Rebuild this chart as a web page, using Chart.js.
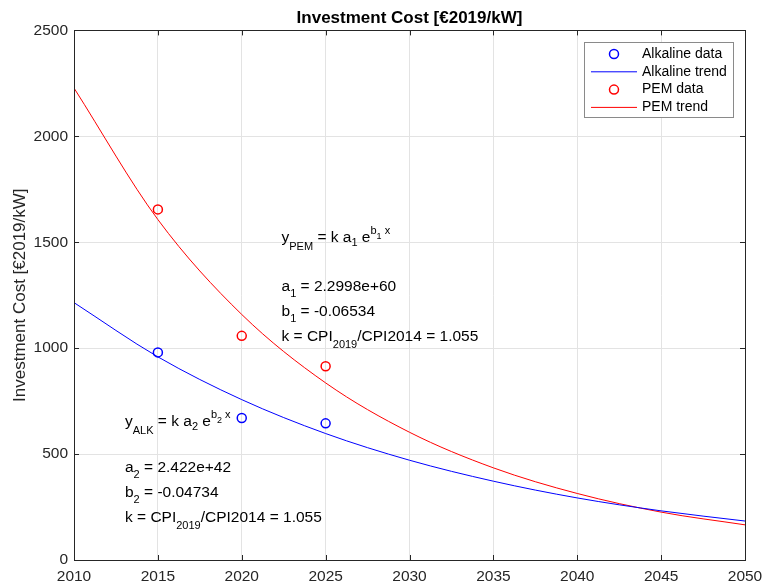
<!DOCTYPE html>
<html>
<head>
<meta charset="utf-8">
<script src="https://cdn.jsdelivr.net/npm/chart.js@4/dist/chart.umd.min.js"></script>
<style>
  html, body { margin: 0; padding: 0; background: #fff; }
</style>
</head>
<body>
<canvas id="costChart" width="763" height="587"></canvas>
<script>
// values
const dataYears = [2015, 2020, 2025];
const alkalineData = [980, 670, 645];
const pemData = [1655, 1058, 915];

const trendYears = [2010, 2015, 2020, 2025, 2030, 2035, 2040, 2045, 2050];
const alkalineTrend = [1215, 959, 757, 597, 471, 372, 293, 232, 184];
const pemTrend = [2228, 1607, 1159, 836, 603, 435, 314, 226, 166];

const xTicks = [2010, 2015, 2020, 2025, 2030, 2035, 2040, 2045, 2050];
const yTicks = [0, 500, 1000, 1500, 2000, 2500];

const FONT = "'Liberation Sans', Arial, Helvetica, sans-serif";
const INK = "#262626";

Chart.defaults.font.family = FONT;
Chart.defaults.color = INK;

function toPoints(xs, ys) {
    return xs.map((x, i) => ({ x: x, y: ys[i] }));
}

// MATLAB style box with inward ticks
const boxPlugin = {
    id: "box",
    afterDatasetsDraw(chart) {
        const c = chart.ctx;
        const a = chart.chartArea;
        const xs = chart.scales.x, ys = chart.scales.y;
        const len = 5;
        c.save();
        c.strokeStyle = INK;
        c.lineWidth = 1;
        c.beginPath();
        xTicks.slice(1, -1).forEach(v => {
            const px = Math.round(xs.getPixelForValue(v)) + 0.5;
            c.moveTo(px, a.bottom); c.lineTo(px, a.bottom - len);
            c.moveTo(px, a.top); c.lineTo(px, a.top + len);
        });
        yTicks.slice(1, -1).forEach(v => {
            const py = Math.round(ys.getPixelForValue(v)) + 0.5;
            c.moveTo(a.left, py); c.lineTo(a.left + len, py);
            c.moveTo(a.right, py); c.lineTo(a.right - len, py);
        });
        c.stroke();
        c.strokeRect(Math.round(a.left) + 0.5, Math.round(a.top) + 0.5,
            Math.round(a.right - a.left), Math.round(a.bottom - a.top));
        c.restore();
    }
};

// rich text: [text, dy, size]
const MAIN = 15.5, SUB = 11, SUB2 = 9;
const notes = [
    { x: 2022.37, y: 1519, parts: [["y", 0, MAIN], ["PEM", 9, SUB], [" = k a", 0, MAIN], ["1", 5, SUB], [" e", 0, MAIN], ["b", -7, SUB], ["1", -2, SUB2], [" x", -7, SUB]] },
    { x: 2022.37, y: 1288, parts: [["a", 0, MAIN], ["1", 7, SUB], [" = 2.2998e+60", 0, MAIN]] },
    { x: 2022.37, y: 1170, parts: [["b", 0, MAIN], ["1", 7, SUB], [" = -0.06534", 0, MAIN]] },
    { x: 2022.37, y: 1052, parts: [["k = CPI", 0, MAIN], ["2019", 8, SUB], ["/CPI2014 = 1.055", 0, MAIN]] },
    { x: 2013.04, y: 651, parts: [["y", 0, MAIN], ["ALK", 9, SUB], [" = k a", 0, MAIN], ["2", 5, SUB], [" e", 0, MAIN], ["b", -7, SUB], ["2", -2, SUB2], [" x", -7, SUB]] },
    { x: 2013.04, y: 434, parts: [["a", 0, MAIN], ["2", 7, SUB], [" = 2.422e+42", 0, MAIN]] },
    { x: 2013.04, y: 316, parts: [["b", 0, MAIN], ["2", 7, SUB], [" = -0.04734", 0, MAIN]] },
    { x: 2013.04, y: 198, parts: [["k = CPI", 0, MAIN], ["2019", 8, SUB], ["/CPI2014 = 1.055", 0, MAIN]] }
];

const notePlugin = {
    id: "notes",
    afterDatasetsDraw(chart) {
        const c = chart.ctx;
        c.save();
        c.fillStyle = "#000";
        c.textBaseline = "middle";
        c.textAlign = "left";
        notes.forEach(n => {
            let px = chart.scales.x.getPixelForValue(n.x);
            const py = chart.scales.y.getPixelForValue(n.y);
            n.parts.forEach(p => {
                c.font = p[2] + "px " + FONT;
                c.fillText(p[0], px, py + p[1]);
                px += c.measureText(p[0]).width;
            });
        });
        c.restore();
    }
};

// legend box inside the axes, top right
const legendPlugin = {
    id: "boxLegend",
    afterDraw(chart) {
        const c = chart.ctx;
        const left = 584.5, top = 42.5, w = 149, h = 75;
        const rowH = 17.8;
        c.save();
        c.fillStyle = "#fff";
        c.fillRect(left, top, w, h);
        c.strokeStyle = "#8a8a8a";
        c.lineWidth = 1;
        c.strokeRect(left, top, w, h);
        c.font = "14px " + FONT;
        c.textBaseline = "middle";
        c.fillStyle = "#000";
        chart.data.datasets.forEach((ds, i) => {
            const cy = top + 11.5 + i * rowH;
            c.strokeStyle = ds.borderColor;
            if (ds.showLine === false) {
                c.lineWidth = 1.5;
                c.beginPath();
                c.arc(614, cy, 4.5, 0, Math.PI * 2);
                c.stroke();
            } else {
                c.lineWidth = 1;
                c.beginPath();
                c.moveTo(591, cy); c.lineTo(637, cy);
                c.stroke();
            }
            c.fillText(ds.label, 642, cy);
        });
        c.restore();
    }
};

new Chart(document.getElementById("costChart"), {
    type: "line",
    data: {
        datasets: [{
            label: "Alkaline data",
            data: toPoints(dataYears, alkalineData),
            showLine: false,
            borderColor: "#0000ff",
            backgroundColor: "rgba(0,0,0,0)",
            pointRadius: 4.5,
            pointBorderWidth: 1.5
        }, {
            label: "Alkaline trend",
            data: toPoints(trendYears, alkalineTrend),
            borderColor: "#0000ff",
            borderWidth: 1,
            pointRadius: 0,
            cubicInterpolationMode: "monotone"
        }, {
            label: "PEM data",
            data: toPoints(dataYears, pemData),
            showLine: false,
            borderColor: "#ff0000",
            backgroundColor: "rgba(0,0,0,0)",
            pointRadius: 4.5,
            pointBorderWidth: 1.5
        }, {
            label: "PEM trend",
            data: toPoints(trendYears, pemTrend),
            borderColor: "#ff0000",
            borderWidth: 1,
            pointRadius: 0,
            cubicInterpolationMode: "monotone"
        }]
    },
    options: {
        responsive: false,
        animation: false,
        devicePixelRatio: 1,
        layout: { padding: { left: 0, right: 18, top: 0, bottom: 0 } },
        plugins: {
            legend: { display: false },
            tooltip: { enabled: false },
            title: {
                display: true,
                fullSize: false,
                text: "Investment Cost [€2019/kW]",
                color: "#000",
                font: { size: 17, weight: "bold" },
                padding: { top: 8, bottom: 2 }
            }
        },
        scales: {
            x: {
                type: "linear",
                min: 2010,
                max: 2050,
                afterFit: s => { s.height = 27; s.paddingLeft = 0; s.paddingRight = 0; },
                afterBuildTicks: s => { s.ticks = xTicks.map(v => ({ value: v })); },
                ticks: {
                    font: { size: 15.5 },
                    color: INK,
                    padding: 7,
                    maxRotation: 0,
                    callback: v => String(v)
                },
                grid: { color: "#e3e3e3", drawTicks: false },
                border: { color: INK }
            },
            y: {
                min: 0,
                max: 2500,
                afterFit: s => { s.width = 74; s.paddingTop = 0; s.paddingBottom = 0; },
                afterBuildTicks: s => { s.ticks = yTicks.map(v => ({ value: v })); },
                ticks: {
                    font: { size: 15.5 },
                    color: INK,
                    padding: 6,
                    callback: v => String(v)
                },
                grid: { color: "#e3e3e3", drawTicks: false },
                border: { color: INK },
                title: {
                    display: true,
                    text: "Investment Cost [€2019/kW]",
                    color: INK,
                    font: { size: 17 },
                    padding: { top: 10, bottom: 0 }
                }
            }
        }
    },
    plugins: [boxPlugin, notePlugin, legendPlugin]
});
</script>
</body>
</html>
